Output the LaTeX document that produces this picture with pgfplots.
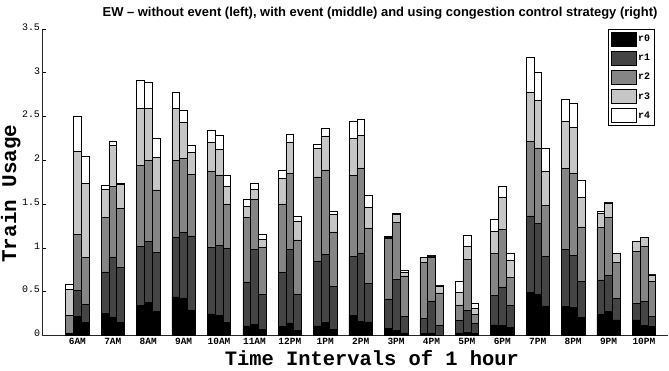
\documentclass[border=0pt]{standalone}
\usepackage{pgfplots}
\pgfplotsset{compat=1.18}
\usepackage{pgfplotstable}
\usepackage{fontspec}
\setmainfont{Liberation Mono}
\newfontfamily\titlefont{Liberation Sans}
\definecolor{cR0}{HTML}{000000}
\definecolor{cR1}{HTML}{444444}
\definecolor{cR2}{HTML}{858585}
\definecolor{cR3}{HTML}{C6C6C6}
\definecolor{cR4}{HTML}{FFFFFF}
\pgfplotstableread{
x r0 r1 r2 r3 r4
0.78 0.015 0.015 0.198 0.297 0.057
1.00 0.22 0.297 0.64 0.943 0.40
1.22 0.148 0.206 0.54 0.845 0.311
1.78 0.251 0.476 0.62 0.323 0.046
2.00 0.213 0.685 0.802 0.473 0.042
2.22 0.148 0.632 0.67 0.277 0.012
2.78 0.342 0.678 0.92 0.659 0.316
3.00 0.38 0.693 0.927 0.591 0.305
3.22 0.278 0.669 0.716 0.369 0.217
3.78 0.441 0.678 0.881 0.591 0.187
4.00 0.43 0.75 0.844 0.415 0.129
4.22 0.293 0.845 0.70 0.255 0.08
4.78 0.247 0.758 0.875 0.323 0.145
5.00 0.232 0.795 0.807 0.289 0.16
5.22 0.152 0.845 0.506 0.202 0.121
5.78 0.11 0.503 0.734 0.129 0.077
6.00 0.129 0.853 0.571 0.117 0.073
6.22 0.068 0.40 0.54 0.092 0.061
6.78 0.103 0.616 0.784 0.297 0.084
7.00 0.145 0.837 0.871 0.358 0.084
7.22 0.057 0.419 0.616 0.209 0.057
7.78 0.11 0.742 0.959 0.331 0.038
8.00 0.148 0.78 0.963 0.388 0.084
8.22 0.068 0.495 0.62 0.198 0.038
8.78 0.232 0.674 0.924 0.423 0.194
9.00 0.164 0.78 0.97 0.369 0.183
9.22 0.156 0.441 0.632 0.24 0.133
9.78 0.08 0.339 0.688 0.013 0.01
10.00 0.061 0.578 0.651 0.091 0.016
10.22 0.03 0.191 0.46 0.038 0.023
10.78 0.024 0.17 0.639 0.057 0.005
11.00 0.03 0.366 0.502 0.01 0.005
11.22 0.005 0.109 0.373 0.08 0.005
11.78 0.03 0.145 0.175 0.145 0.121
12.00 0.038 0.247 0.583 0.148 0.133
12.22 0.023 0.114 0.107 0.068 0.061
12.78 0.122 0.335 0.479 0.259 0.133
13.00 0.114 0.442 0.658 0.361 0.133
13.22 0.091 0.255 0.32 0.194 0.076
13.78 0.495 0.871 0.849 0.567 0.399
14.00 0.472 0.807 0.863 0.541 0.327
14.22 0.339 0.563 0.586 0.392 0.262
14.78 0.331 0.651 0.924 0.544 0.252
15.00 0.32 0.597 0.932 0.525 0.278
15.22 0.209 0.407 0.624 0.335 0.194
15.78 0.245 0.389 0.601 0.165 0.02
16.00 0.272 0.418 0.659 0.166 0.005
16.22 0.177 0.247 0.407 0.107 0.005
16.78 0.177 0.19 0.59 0.114 0.005
17.00 0.112 0.274 0.628 0.103 0.005
17.22 0.10 0.115 0.403 0.073 0.005
}\data
\begin{document}
\begin{tikzpicture}
\begin{axis}[
  scale only axis, width=626bp, height=306.5bp,
  xmin=0, xmax=17.68, ymin=0, ymax=3.5,
  axis x line*=bottom, axis y line*=left,
  axis line style={line width=0.8bp, black!85},
  ybar stacked, bar width=0.22,
  xtick={1,...,17},
  xticklabels={6AM,7AM,8AM,9AM,10AM,11AM,12PM,1PM,2PM,3PM,4PM,5PM,6PM,7PM,8PM,9PM,10PM},
  x tick style={draw=none},
  ytick={0,0.5,1,1.5,2,2.5,3,3.5},
  y tick style={black, line width=0.6bp},
  tick align=inside, major tick length=4.5bp,
  /pgf/number format/assume math mode=true,
  xticklabel style={font=\bfseries\fontsize{9.5}{10}\selectfont, yshift=1bp},
  yticklabel style={font=\fontsize{10}{11}\selectfont, xshift=1.5bp, yshift=2bp},
  every axis plot/.append style={draw=black, line width=0.5bp},
  title={\titlefont\bfseries EW – without event (left), with event (middle) and using congestion control strategy (right)},
  title style={font=\fontsize{13}{14}\selectfont, at={(axis description cs:0.54,1)}, anchor=base, yshift=6.5bp},
  xlabel={Time Intervals of 1 hour},
  xlabel style={font=\bfseries\fontsize{20.5}{21}\selectfont, at={(axis description cs:0.527,-0.075)}, anchor=center},
  ylabel={Train Usage},
  ylabel style={font=\bfseries\fontsize{21}{22}\selectfont, at={(axis description cs:-0.05,0.463)}, anchor=center},
  legend style={at={(axis description cs:1,1)}, anchor=north east, xshift=-13bp, draw=black, line width=0.8bp, font=\bfseries\fontsize{10}{11}\selectfont, row sep=4.5bp, inner sep=2.5bp, cells={anchor=west}},
  legend image code/.code={\draw[#1,draw=black,line width=0.6bp] (0bp,-7bp) rectangle (25bp,7bp);},
]
\addplot[fill=cR0] table[x=x,y=r0]{\data};
\addplot[fill=cR1] table[x=x,y=r1]{\data};
\addplot[fill=cR2] table[x=x,y=r2]{\data};
\addplot[fill=cR3] table[x=x,y=r3]{\data};
\addplot[fill=cR4] table[x=x,y=r4]{\data};
\legend{r0,r1,r2,r3,r4}
\end{axis}
\pgfresetboundingbox
\path ([shift={(-42bp,-35.5bp)}]current axis.south west) rectangle ([shift={(1bp,29bp)}]current axis.north east);
\end{tikzpicture}
\end{document}
